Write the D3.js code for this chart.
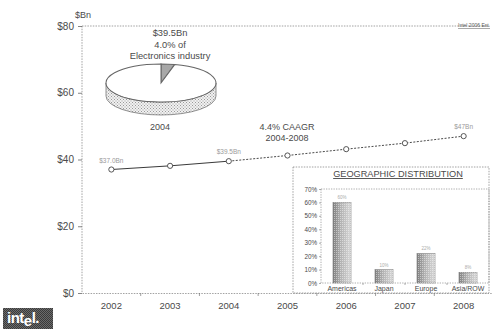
<!DOCTYPE html>
<html>
<head>
<meta charset="utf-8">
<script src="https://cdn.jsdelivr.net/npm/d3@7"></script>
<style>
  html, body { margin: 0; padding: 0; background: #fff; }
  svg { display: block; font-family: "Liberation Sans", Arial, sans-serif; }
</style>
</head>
<body>
<svg id="chart" width="492" height="330"></svg>
<script>
// Revenue trend, $Bn
const years = ["2002", "2003", "2004", "2005", "2006", "2007", "2008"];
const revenue = [37.0, 38.1, 39.5, 41.2, 43.1, 44.9, 47.0];
const yTicks = [0, 20, 40, 60, 80];
const labelYears = ["2002", "2004", "2008"];
const labelTexts = ["$37.0Bn", "$39.5Bn", "$47Bn"];
const actualThrough = "2004";

// 2004 share of the electronics industry
const pieShares = [4.0, 96.0];

// Geographic distribution
const regions = ["Americas", "Japan", "Europe", "Asia/ROW"];
const regionShare = [60, 10, 22, 8];
const geoTicks = [0, 10, 20, 30, 40, 50, 60, 70];

const svg = d3.select("#chart");
const defs = svg.append("defs");

// stipple textures
function stipple(id, bg, dot, size) {
  const p = defs.append("pattern").attr("id", id)
    .attr("patternUnits", "userSpaceOnUse").attr("width", size).attr("height", size);
  p.append("rect").attr("width", size).attr("height", size).attr("fill", bg);
  p.append("rect").attr("x", 0).attr("y", 0).attr("width", 1).attr("height", 1).attr("fill", dot);
  p.append("rect").attr("x", size / 2).attr("y", size / 2).attr("width", 1).attr("height", 1).attr("fill", dot);
}
stipple("dotsLight", "#f1f1f1", "#9a9a9a", 3);
stipple("dotsMid", "#d6d6d6", "#7a7a7a", 2);
stipple("dotsLogo", "#6a6a6a", "#3a3a3a", 2);

const barGrad = defs.append("linearGradient").attr("id", "barGrad")
  .attr("x1", "0%").attr("x2", "100%").attr("y1", "0%").attr("y2", "0%");
barGrad.append("stop").attr("offset", "0%").attr("stop-color", "#7e7e7e");
barGrad.append("stop").attr("offset", "45%").attr("stop-color", "#b4b4b4");
barGrad.append("stop").attr("offset", "100%").attr("stop-color", "#d8d8d8");
const barTex = defs.append("pattern").attr("id", "barTex")
  .attr("patternUnits", "userSpaceOnUse").attr("width", 2).attr("height", 2);
barTex.append("rect").attr("width", 1).attr("height", 1).attr("fill", "#ffffff").attr("opacity", 0.45);

// ---------- main axes ----------
const x = d3.scaleBand().domain(years).range([82, 493]).padding(0);
const y = d3.scaleLinear().domain([0, 80]).range([293, 26]);
const cx = d => x(d) + x.bandwidth() / 2;

const axisColor = "#8a8a8a";
const textColor = "#4a4a4a";

// dotted frame lines: top, left, bottom
svg.append("line").attr("x1", 82).attr("x2", 490).attr("y1", y(80)).attr("y2", y(80))
  .attr("stroke", axisColor).attr("stroke-width", 0.8).attr("stroke-dasharray", "1.5,1.2");
svg.append("line").attr("x1", 82).attr("x2", 82).attr("y1", y(80)).attr("y2", y(0))
  .attr("stroke", axisColor).attr("stroke-width", 0.8).attr("stroke-dasharray", "1.5,1.2");

const yAxis = svg.append("g").attr("transform", "translate(82,0)")
  .call(d3.axisLeft(y).tickValues(yTicks).tickFormat(d => "$" + d).tickSize(4).tickPadding(4));
yAxis.select(".domain").remove();
yAxis.selectAll(".tick line").attr("stroke", "#666").attr("stroke-width", 0.8);
yAxis.selectAll(".tick text").attr("fill", textColor).attr("font-size", 10)
  .attr("font-family", "Liberation Sans, Arial, sans-serif");

svg.append("text").attr("x", 83).attr("y", 18).attr("text-anchor", "middle")
  .attr("font-size", 9).attr("fill", textColor).text("$Bn");

const xAxis = svg.append("g").attr("transform", `translate(0,${y(0)})`)
  .call(d3.axisBottom(x).tickSize(0).tickPadding(9));
xAxis.select(".domain").attr("stroke", axisColor).attr("stroke-width", 0.8)
  .attr("stroke-dasharray", "1.5,1.2");
xAxis.selectAll(".tick text").attr("fill", textColor).attr("font-size", 9.5)
  .attr("font-family", "Liberation Sans, Arial, sans-serif");
// boundary ticks between the years
svg.append("g").selectAll("line").data(years.slice(1)).join("line")
  .attr("x1", d => x(d)).attr("x2", d => x(d))
  .attr("y1", y(0)).attr("y2", y(0) + 3)
  .attr("stroke", "#777").attr("stroke-width", 0.7);

// ---------- revenue line ----------
const pts = years.map((yr, i) => ({ yr, v: revenue[i] }));
const splitIdx = years.indexOf(actualThrough);
const line = d3.line().x(d => cx(d.yr)).y(d => y(d.v));
svg.append("path").datum(pts.slice(0, splitIdx + 1)).attr("d", line)
  .attr("fill", "none").attr("stroke", "#3a3a3a").attr("stroke-width", 1);
svg.append("path").datum(pts.slice(splitIdx)).attr("d", line)
  .attr("fill", "none").attr("stroke", "#4a4a4a").attr("stroke-width", 1)
  .attr("stroke-dasharray", "2,1.5");
svg.append("g").selectAll("circle").data(pts).join("circle")
  .attr("cx", d => cx(d.yr)).attr("cy", d => y(d.v)).attr("r", 2.6)
  .attr("fill", "#fff").attr("stroke", "#444").attr("stroke-width", 0.9);

svg.append("g").selectAll("text").data(labelYears).join("text")
  .attr("x", d => cx(d)).attr("y", d => y(revenue[years.indexOf(d)]) - 7)
  .attr("text-anchor", "middle").attr("font-size", 6.5).attr("fill", "#9a9a9a")
  .text((d, i) => labelTexts[i]);

svg.append("text").attr("x", 287).attr("y", 130).attr("text-anchor", "middle")
  .attr("font-size", 9).attr("fill", textColor).text("4.4% CAAGR");
svg.append("text").attr("x", 287).attr("y", 141).attr("text-anchor", "middle")
  .attr("font-size", 9).attr("fill", textColor).text("2004-2008");

// ---------- 3D pie ----------
const pcx = 161, pcy = 83, rx = 55, ry = 19, depth = 13;
const pieG = svg.append("g");
// side wall
pieG.append("path")
  .attr("d", `M${pcx - rx},${pcy} A${rx},${ry} 0 0 0 ${pcx + rx},${pcy} L${pcx + rx},${pcy + depth} A${rx},${ry} 0 0 1 ${pcx - rx},${pcy + depth} Z`)
  .attr("fill", "url(#dotsLight)").attr("stroke", "#666").attr("stroke-width", 0.7);
// top face slices
const pie = d3.pie().sort(null).value(d => d);
const arc = d3.arc().innerRadius(0).outerRadius(rx);
pieG.append("g").attr("transform", `translate(${pcx},${pcy}) scale(1,${ry / rx})`)
  .selectAll("path").data(pie(pieShares)).join("path")
  .attr("d", arc)
  .attr("fill", (d, i) => i === 0 ? "url(#dotsMid)" : "#ffffff")
  .attr("stroke", "#666").attr("stroke-width", 0.7 * rx / ry * 0.5)
  .attr("vector-effect", "non-scaling-stroke");

svg.append("g").selectAll("text")
  .data(["$39.5Bn", "4.0% of", "Electronics industry"]).join("text")
  .attr("x", 170).attr("y", (d, i) => 36 + i * 11.5)
  .attr("text-anchor", "middle").attr("font-size", 9.3).attr("fill", textColor).text(d => d);
svg.append("text").attr("x", 160).attr("y", 130).attr("text-anchor", "middle")
  .attr("font-size", 9).attr("fill", textColor).text("2004");

// ---------- geographic inset ----------
const inset = svg.append("g");
inset.append("rect").attr("x", 293).attr("y", 167).attr("width", 196).attr("height", 126)
  .attr("fill", "#fff").attr("stroke", axisColor).attr("stroke-width", 0.8)
  .attr("stroke-dasharray", "1.5,1.2");
inset.append("text").attr("x", 398).attr("y", 177).attr("text-anchor", "middle")
  .attr("font-size", 9.2).attr("fill", textColor).attr("text-decoration", "underline")
  .text("GEOGRAPHIC DISTRIBUTION");

const gx = d3.scaleBand().domain(regions).range([321, 489]).paddingInner(0.57).paddingOuter(0.285);
const gy = d3.scaleLinear().domain([0, 70]).range([283, 189]);

inset.append("rect").attr("x", 321).attr("y", gy(70)).attr("width", 168).attr("height", gy(0) - gy(70))
  .attr("fill", "none").attr("stroke", axisColor).attr("stroke-width", 0.7)
  .attr("stroke-dasharray", "1.3,1.2");

const gyAxis = inset.append("g").attr("transform", "translate(321,0)")
  .call(d3.axisLeft(gy).tickValues(geoTicks).tickFormat(d => d + "%").tickSize(2).tickPadding(2));
gyAxis.select(".domain").remove();
gyAxis.selectAll(".tick line").attr("stroke", "#777").attr("stroke-width", 0.6);
gyAxis.selectAll(".tick text").attr("fill", textColor).attr("font-size", 6.3)
  .attr("font-family", "Liberation Sans, Arial, sans-serif");

const gxAxis = inset.append("g").attr("transform", `translate(0,${gy(0)})`)
  .call(d3.axisBottom(gx).tickSize(0).tickPadding(3));
gxAxis.select(".domain").remove();
gxAxis.selectAll(".tick text").attr("fill", textColor).attr("font-size", 7)
  .attr("font-family", "Liberation Sans, Arial, sans-serif");
inset.append("g").selectAll("line").data(regions.slice(1)).join("line")
  .attr("x1", d => gx(d) - gx.step() * gx.paddingInner() / 2)
  .attr("x2", d => gx(d) - gx.step() * gx.paddingInner() / 2)
  .attr("y1", gy(0)).attr("y2", gy(0) + 2).attr("stroke", "#777").attr("stroke-width", 0.6);

const bars = inset.append("g").selectAll("g").data(regions).join("g");
bars.append("rect")
  .attr("x", d => gx(d)).attr("width", gx.bandwidth())
  .attr("y", (d, i) => gy(regionShare[i])).attr("height", (d, i) => gy(0) - gy(regionShare[i]))
  .attr("fill", "url(#barGrad)").attr("stroke", "#777").attr("stroke-width", 0.5);
bars.append("rect")
  .attr("x", d => gx(d)).attr("width", gx.bandwidth())
  .attr("y", (d, i) => gy(regionShare[i])).attr("height", (d, i) => gy(0) - gy(regionShare[i]))
  .attr("fill", "url(#barTex)");
bars.append("text")
  .attr("x", d => gx(d) + gx.bandwidth() / 2).attr("y", (d, i) => gy(regionShare[i]) - 3)
  .attr("text-anchor", "middle").attr("font-size", 4.5).attr("fill", "#aaa")
  .text((d, i) => regionShare[i] + "%");

// ---------- footer ----------
svg.append("text").attr("x", 490).attr("y", 27).attr("text-anchor", "end")
  .attr("font-size", 5).attr("fill", "#555").attr("text-decoration", "underline")
  .text("Intel 2006 Est.");

const logo = svg.append("g");
logo.append("rect").attr("x", 3).attr("y", 308).attr("width", 50).attr("height", 21)
  .attr("fill", "url(#dotsLogo)");
const lt = logo.append("text").attr("x", 7).attr("y", 323).attr("font-size", 15)
  .attr("font-weight", "bold").attr("fill", "#fff").attr("letter-spacing", -0.5);
lt.append("tspan").text("int");
lt.append("tspan").attr("dy", 3).text("e");
lt.append("tspan").attr("dy", -3).text("l.");
</script>
</body>
</html>
